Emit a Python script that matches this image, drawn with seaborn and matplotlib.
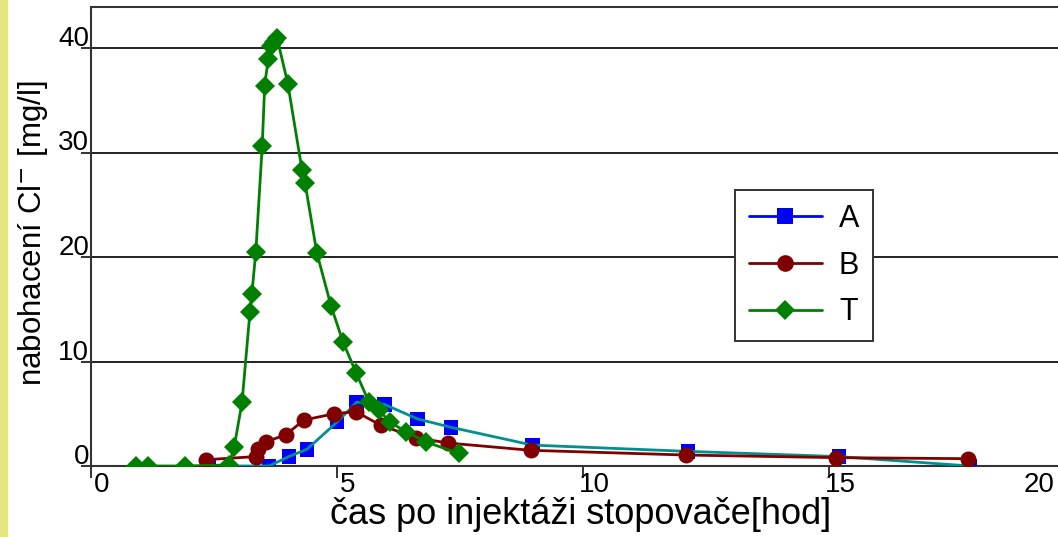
import matplotlib
matplotlib.use("Agg")
import numpy as np
import pandas as pd
import seaborn as sns
import matplotlib.pyplot as plt
from matplotlib.lines import Line2D
from matplotlib.patches import Rectangle
from matplotlib.transforms import ScaledTranslation

# ---- data ----
a_x = [2.40, 3.62, 4.02, 4.39, 5.00, 5.40, 5.96, 6.64, 7.32, 8.97, 12.13, 15.20, 17.87]
a_y = [0.0, 0.0, 0.9, 1.6, 4.2, 6.1, 5.9, 4.5, 3.7, 2.0, 1.4, 0.9, 0.0]

b_x = [2.33, 3.35, 3.40, 3.55, 3.96, 4.33, 4.94, 5.38, 5.89, 6.61, 7.26, 8.94, 12.09, 15.14, 17.83]
b_y = [0.6, 0.9, 1.6, 2.3, 3.0, 4.4, 5.0, 5.2, 3.9, 2.7, 2.2, 1.5, 1.05, 0.8, 0.7]

t_x = [0.92, 1.16, 1.91, 2.80, 2.91, 3.07, 3.23, 3.27, 3.35, 3.48, 3.53, 3.60, 3.65,
       3.72, 3.78, 4.00, 4.29, 4.35, 4.59, 4.88, 5.12, 5.39, 5.65, 5.85, 6.07, 6.40,
       6.81, 7.48]
t_y = [0.0, 0.0, 0.0, 0.1, 1.8, 6.1, 14.7, 16.5, 20.5, 30.6, 36.4, 38.9, 40.2,
       40.6, 41.0, 36.6, 28.3, 27.1, 20.4, 15.3, 11.9, 8.9, 6.1, 5.4, 4.2, 3.3,
       2.3, 1.2]

series_names = ["A", "B", "T"]
x_ticks = [0, 5, 10, 15, 20]
y_ticks = [0, 10, 20, 30, 40]
x_label = "čas po injektáži stopovače[hod]"
y_label = r"nabohacení Cl$^{-}$ [mg/l]"

# ---- style ----
sns.set_theme(style="white")
plt.rcParams["font.family"] = ["Liberation Sans", "DejaVu Sans"]
plt.rcParams["text.color"] = "black"
plt.rcParams["axes.labelcolor"] = "black"
plt.rcParams["xtick.color"] = "black"
plt.rcParams["ytick.color"] = "black"

W, H = 1058, 537
fig = plt.figure(figsize=(W / 100, H / 100), dpi=100)
fig.patch.set_facecolor("white")
fig.add_artist(Rectangle((0, 0), 7 / W, 1, transform=fig.transFigure,
                         color="#e6e67e", zorder=0))

ax_left, ax_right, ax_top, ax_bottom = 91, 1075, 7, 466
ax = fig.add_axes([ax_left / W, (H - ax_bottom) / H,
                   (ax_right - ax_left) / W, (ax_bottom - ax_top) / H])
ax.set_facecolor("white")

blue, teal, red, green = "#0000ff", "#009090", "#800000", "#008000"

sns.scatterplot(x=a_x, y=a_y, marker="s", s=110, color=blue, edgecolor="none",
                ax=ax, zorder=3, legend=False)
sns.lineplot(x=a_x, y=a_y, color=teal, lw=2, estimator=None, ax=ax, zorder=4)
sns.lineplot(x=b_x, y=b_y, color=red, lw=2, marker="o", markersize=11.5,
             markeredgewidth=0, estimator=None, ax=ax, zorder=5)
sns.lineplot(x=t_x, y=t_y, color=green, lw=2, marker="D", markersize=10.5,
             markeredgewidth=0, estimator=None, ax=ax, zorder=6)

ax.set_xlim(0, 20)
ax.set_ylim(0, (ax_bottom - ax_top) / 10.45)
ax.set_xticks(x_ticks)
ax.set_yticks(y_ticks)
ax.set_xticklabels([str(v) for v in x_ticks])
ax.set_yticklabels([str(v) for v in y_ticks])

ax.yaxis.grid(True, color="#222222", lw=1.4)
ax.xaxis.grid(False)
for side in ["left", "bottom", "top", "right"]:
    ax.spines[side].set_visible(True)
    ax.spines[side].set_color("#333333")
    ax.spines[side].set_linewidth(1.5)

ax.tick_params(axis="y", left=True, length=7, width=1.4, color="#333333",
               direction="out", labelsize=20, pad=0, labelcolor="black")
ax.tick_params(axis="x", bottom=True, length=8.5, width=1.4, color="#333333",
               direction="out", labelsize=20, pad=0, labelcolor="black")

for lab in ax.get_yticklabels():
    lab.set_transform(lab.get_transform() +
                      ScaledTranslation(8 / 100, 12 / 100, fig.dpi_scale_trans))
for lab in ax.get_xticklabels():
    dx = -36 if lab.get_text() == "20" else 11
    lab.set_transform(lab.get_transform() +
                      ScaledTranslation(dx / 100, 6 / 100, fig.dpi_scale_trans))

ax.set_xlabel(x_label, fontsize=26, va="center")
ax.xaxis.set_label_coords((581 - ax_left) / (ax_right - ax_left),
                          (ax_bottom - 515) / (ax_bottom - ax_top))
ax.set_ylabel(y_label, fontsize=22.5, va="center", ha="center")
ax.yaxis.set_label_coords((33 - ax_left) / (ax_right - ax_left),
                          (ax_bottom - 233) / (ax_bottom - ax_top))

handles = [
    Line2D([], [], color=blue, lw=2, marker="s", markersize=11, markeredgewidth=0),
    Line2D([], [], color=red, lw=2, marker="o", markersize=12, markeredgewidth=0),
    Line2D([], [], color=green, lw=2, marker="D", markersize=10, markeredgewidth=0),
]
leg = ax.legend(handles, series_names, loc="upper left",
                bbox_to_anchor=((735 - ax_left) / (ax_right - ax_left),
                                (ax_bottom - 190) / (ax_bottom - ax_top)),
                borderaxespad=0, fontsize=22, frameon=True, fancybox=False,
                edgecolor="#333333", framealpha=1, handlelength=2.4,
                handletextpad=0.55, labelspacing=0.55, borderpad=0.45,
                labelcolor="black")
leg.get_frame().set_linewidth(1.4)
leg.set_zorder(10)

fig.savefig("out.png", dpi=100)
